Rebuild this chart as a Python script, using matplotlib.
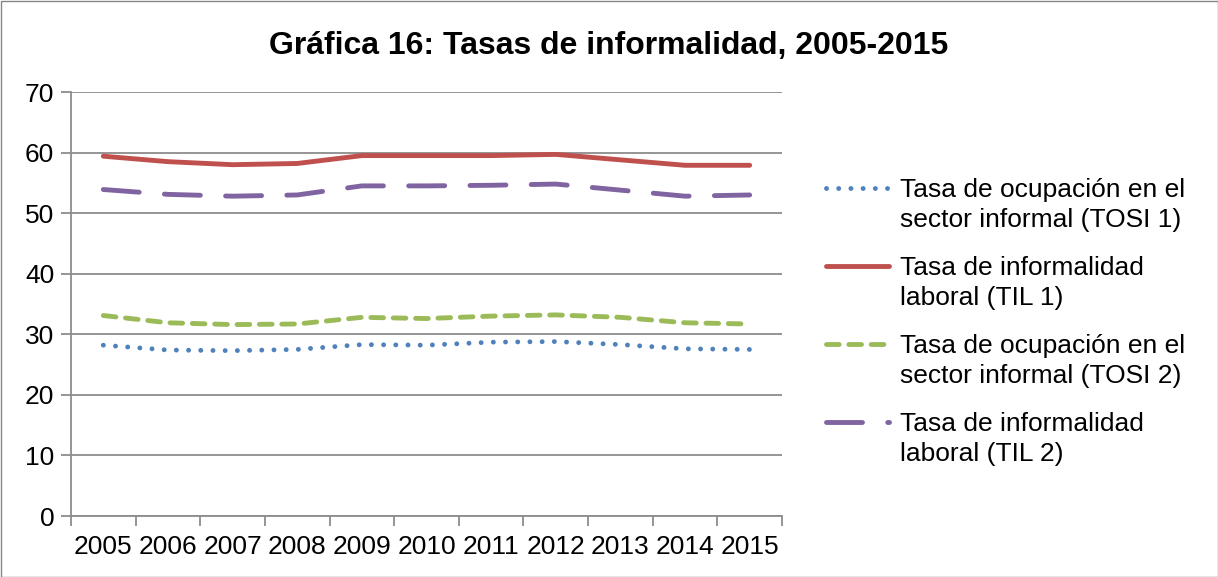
import matplotlib.pyplot as plt
from matplotlib.lines import Line2D
from matplotlib.patches import Rectangle

plt.rcParams['font.family'] = ['Liberation Sans', 'DejaVu Sans']

years = ['2005', '2006', '2007', '2008', '2009', '2010', '2011', '2012', '2013', '2014', '2015']
tosi1 = [28.2, 27.4, 27.3, 27.5, 28.3, 28.2, 28.7, 28.8, 28.3, 27.6, 27.5]
til1 = [59.4, 58.5, 58.0, 58.2, 59.5, 59.5, 59.5, 59.7, 58.8, 57.9, 57.9]
tosi2 = [33.1, 31.9, 31.6, 31.7, 32.8, 32.6, 33.0, 33.2, 32.8, 31.9, 31.7]
til2 = [53.9, 53.1, 52.8, 53.0, 54.5, 54.5, 54.6, 54.8, 53.8, 52.8, 53.0]

labels = ['Tasa de ocupación en el\nsector informal (TOSI 1)',
          'Tasa de informalidad\nlaboral (TIL 1)',
          'Tasa de ocupación en el\nsector informal (TOSI 2)',
          'Tasa de informalidad\nlaboral (TIL 2)']

colors = ['#4F81BD', '#C0504D', '#9BBB59', '#8064A2']
lw = 3.5
styles = [dict(linestyle=(0, (0.01, 2.5)), dash_capstyle='round'),
          dict(linestyle='-', solid_capstyle='round'),
          dict(linestyle=(0, (2.6, 2.0)), dash_capstyle='round'),
          dict(linestyle=(0, (7.4, 5.2)), dash_capstyle='round')]

fig = plt.figure(figsize=(12.18, 5.77), dpi=100)
ax = fig.add_axes([71 / 1218, 1 - 516 / 577, (782 - 71) / 1218, (516 - 92) / 577])

x = list(range(len(years)))
for vals, c, st in zip([tosi1, til1, tosi2, til2], colors, styles):
    ax.plot(x, vals, color=c, lw=lw, **st)

grid_c = '#8C8C8C'
ax.set_xlim(-0.5, len(years) - 0.5)
ax.set_ylim(0, 70)
ax.set_yticks(range(0, 71, 10))
ax.yaxis.grid(True, color=grid_c, lw=1.3)
ax.set_axisbelow(True)
ax.set_xticks(x)
ax.set_xticklabels(years)
ax.set_xticks([i - 0.5 for i in range(len(years) + 1)], minor=True)
ax.tick_params(axis='x', which='major', length=0, pad=14, labelsize=19)
ax.tick_params(axis='x', which='minor', length=7, width=1.3, color=grid_c)
ax.tick_params(axis='y', length=7, width=1.3, color=grid_c, pad=5, labelsize=19)
for s in ['top', 'right']:
    ax.spines[s].set_visible(False)
for s in ['left', 'bottom']:
    ax.spines[s].set_color(grid_c)
    ax.spines[s].set_linewidth(1.3)

fig.text(609 / 1218, 1 - 46 / 577, 'Gráfica 16: Tasas de informalidad, 2005-2015',
         ha='center', va='center', fontsize=23, fontweight='bold')

# legend drawn in figure pixels, handle beside the first text line
H = 577
for i, (lab, c, st) in enumerate(zip(labels, colors, styles)):
    yc = 188 + i * 78
    fig.add_artist(Line2D([826 / 1218, 889 / 1218], [1 - yc / H, 1 - yc / H],
                          color=c, lw=lw, transform=fig.transFigure, **st))
    fig.text(900 / 1218, 1 - (yc - 10) / H, lab, ha='left', va='top',
             fontsize=19, linespacing=1.32)

fig.add_artist(Rectangle((0.5 / 1218, 0.5 / 577), 1 - 1 / 1218, 1 - 1 / 577,
                         transform=fig.transFigure, fill=False, edgecolor='#868686', lw=1))

fig.savefig('out.png', dpi=100)
